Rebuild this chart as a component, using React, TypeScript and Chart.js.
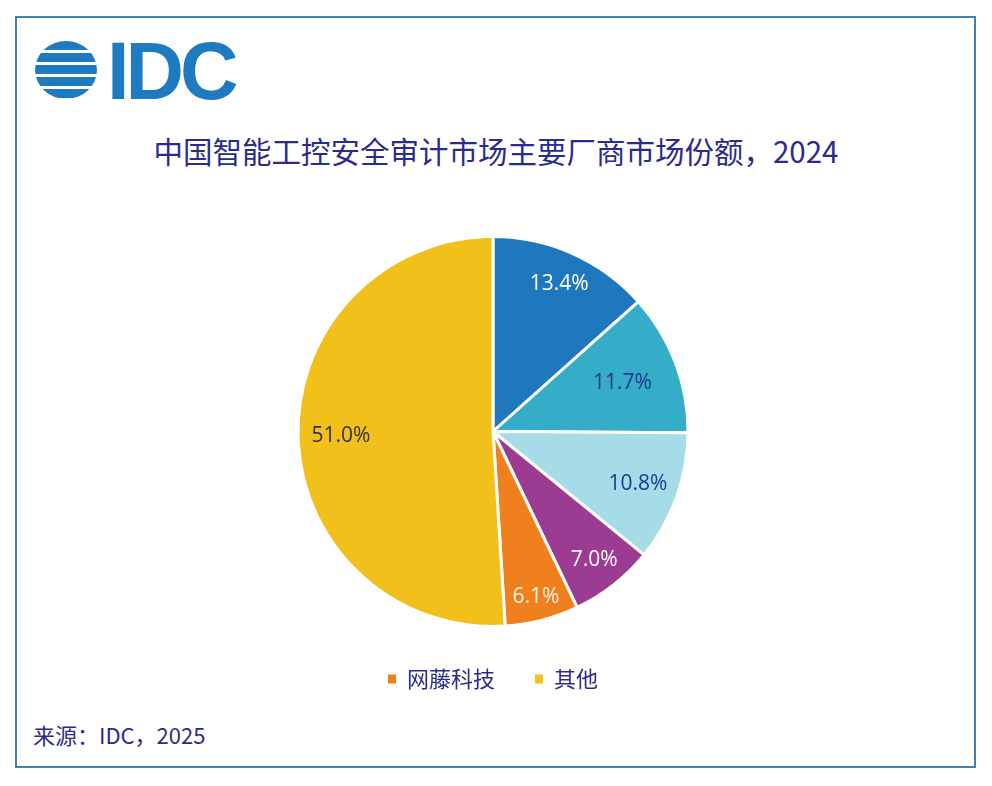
import { useEffect, useRef } from "react";
import { Chart, DoughnutController, Plugin, registerables } from "chart.js";

Chart.register(...registerables);

// only two vendors are named in the source chart
const vendors = ["", "", "", "", "网藤科技", "其他"];
const shares = [13.4, 11.7, 10.8, 7.0, 6.1, 51.0];

const sliceColors = ["#1F78BE", "#35ADC8", "#A5DCE8", "#9B3B92", "#F0801E", "#F2C01B"];
const labelColors = ["#FFFFFF", "#1E3A8C", "#1E3A8C", "#FFFFFF", "#FFF3E6", "#333333"];
const labelRadius = [0.83, 0.71, 0.79, 0.84, 0.875, 0.78];

const navy = "#2A2B8C";
const cjk = '"Noto Sans CJK SC", "Noto Sans", sans-serif';

const sliceLabels: Plugin<"pie"> = {
  id: "sliceLabels",
  afterDatasetsDraw(chart) {
    const { ctx } = chart;
    const meta = chart.getDatasetMeta(0);
    const values = chart.data.datasets[0].data as number[];
    ctx.save();
    ctx.font = '21px "Open Sans", sans-serif';
    ctx.textAlign = "center";
    ctx.textBaseline = "middle";
    meta.data.forEach((el, i) => {
      const { x, y, startAngle, endAngle, outerRadius } = (el as any).getProps(
        ["x", "y", "startAngle", "endAngle", "outerRadius"],
        true
      );
      const mid = (startAngle + endAngle) / 2;
      const r = outerRadius * labelRadius[i];
      ctx.fillStyle = labelColors[i];
      ctx.fillText(values[i].toFixed(1) + "%", x + Math.cos(mid) * r, y + Math.sin(mid) * r);
    });
    ctx.restore();
  },
};

const SharePie = () => {
  const canvasRef = useRef<HTMLCanvasElement | null>(null);

  useEffect(() => {
    if (!canvasRef.current) return;
    const baseLabels = (DoughnutController as any).overrides.plugins.legend.labels.generateLabels;

    const chart = new Chart(canvasRef.current, {
      type: "pie",
      data: {
        labels: vendors,
        datasets: [
          {
            data: shares,
            backgroundColor: sliceColors,
            borderColor: "#FFFFFF",
            borderWidth: 3,
          },
        ],
      },
      options: {
        responsive: false,
        animation: false,
        layout: { padding: { top: 5, bottom: 0, left: 0, right: 0 } },
        plugins: {
          tooltip: { enabled: false },
          legend: {
            position: "bottom",
            labels: {
              boxWidth: 8,
              boxHeight: 9,
              padding: 40,
              color: navy,
              font: { family: cjk, size: 22 },
              generateLabels: (c: Chart) =>
                baseLabels(c)
                  .filter((item: any) => item.text !== "")
                  .map((item: any) => ({ ...item, lineWidth: 0 })),
            },
          },
        },
      },
      plugins: [sliceLabels],
    });

    return () => {
      chart.destroy();
    };
  }, []);

  return (
    <canvas
      ref={canvasRef}
      width={600}
      height={470}
      style={{ position: "absolute", left: 193, top: 230, width: 600, height: 470 }}
    />
  );
};

const Logo = () => (
  <div style={{ position: "absolute", left: 35, top: 31 }}>
    <div
      style={{
        position: "absolute",
        left: 0,
        top: 10,
        width: 62,
        height: 58,
        borderRadius: "50%",
        background: "repeating-linear-gradient(to bottom, #1E7BC0 0px, #1E7BC0 9px, #FFFFFF 9px, #FFFFFF 12px)",
      }}
    />
    <div
      style={{
        position: "absolute",
        left: 72,
        top: 0,
        fontFamily: '"Liberation Sans", Arial, sans-serif',
        fontWeight: 700,
        fontSize: 81,
        lineHeight: 1,
        letterSpacing: -4,
        color: "#1E7BC0",
      }}
    >
      IDC
    </div>
  </div>
);

export default function App() {
  return (
    <div
      style={{
        position: "absolute",
        left: 0,
        top: 0,
        width: 992,
        height: 786,
        background: "#FFFFFF",
        overflow: "hidden",
      }}
    >
      <div
        style={{
          position: "absolute",
          left: 15,
          top: 16,
          width: 961,
          height: 752,
          boxSizing: "border-box",
          border: "2px solid #3F82AF",
        }}
      />
      <Logo />
      <div
        style={{
          position: "absolute",
          left: 0,
          width: 992,
          top: 132,
          textAlign: "center",
          fontFamily: cjk,
          fontSize: 29.5,
          lineHeight: "36px",
          color: navy,
          paddingLeft: 0,
        }}
      >
        中国智能工控安全审计市场主要厂商市场份额，2024
      </div>
      <SharePie />
      <div
        style={{
          position: "absolute",
          left: 33,
          top: 719,
          fontFamily: cjk,
          fontSize: 22,
          lineHeight: "30px",
          color: navy,
        }}
      >
        来源：IDC，2025
      </div>
    </div>
  );
}
